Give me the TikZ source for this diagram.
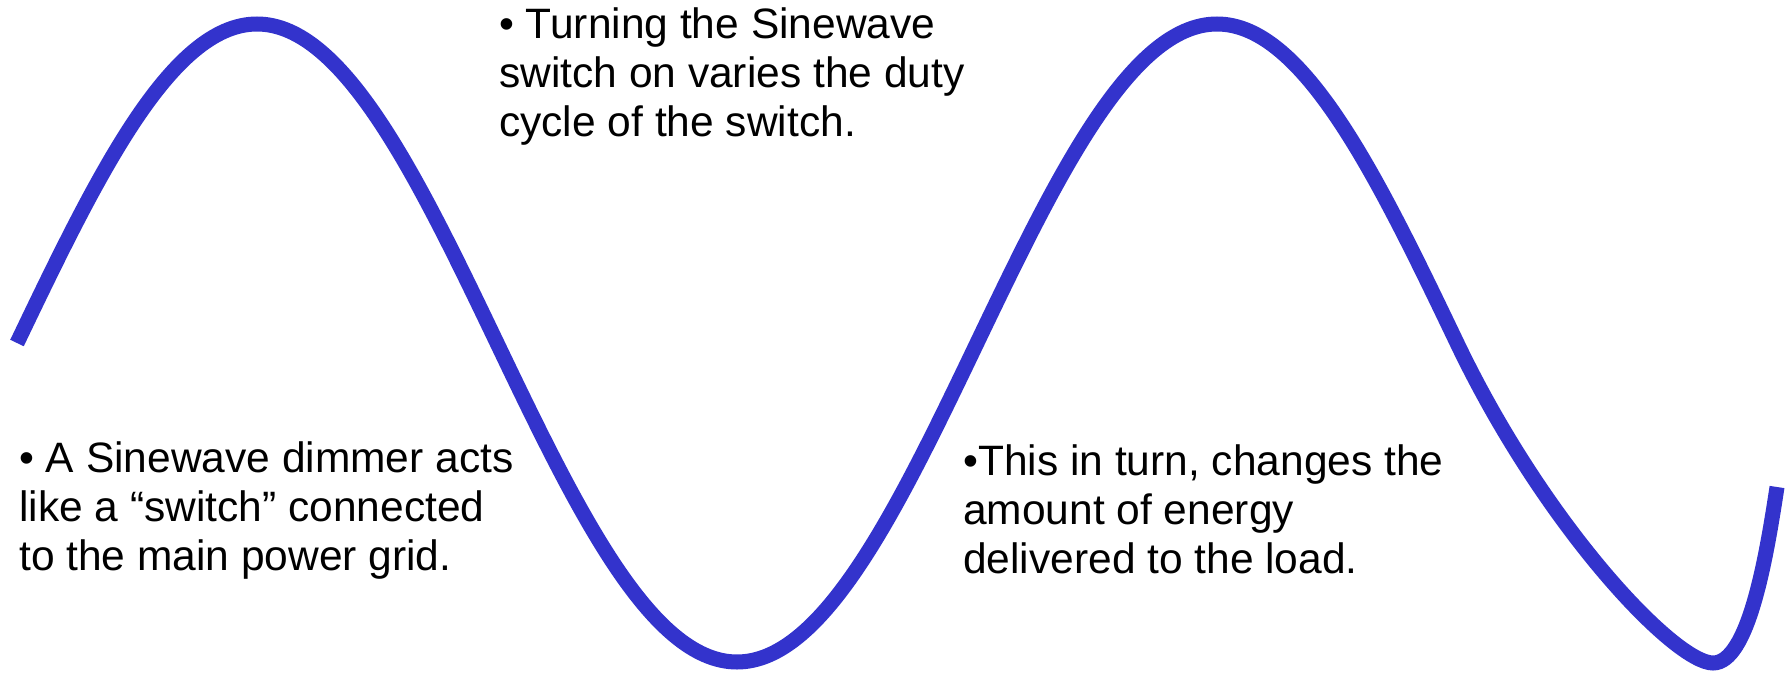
\documentclass[tikz,border=0pt]{standalone}
\usepackage{fontspec}
\setmainfont{Liberation Sans}
\definecolor{wave}{RGB}{51,51,204}
\begin{document}
\begin{tikzpicture}[x=1pt,y=-1pt,
  wavestyle/.style={draw=wave,line width=15pt},
  note/.style={anchor=base west,inner sep=0pt,align=left,
    font=\fontsize{42.5}{49}\selectfont}]
\useasboundingbox (0,0) rectangle (1785,674);
% sine wave
\draw[wavestyle] (17,343)
  .. controls (95.3,179.6) and (170.2,24) .. (257,24)
  .. controls (343.8,24) and (418.7,179.6) .. (497,343)
  .. controls (575.3,506.4) and (650.2,662) .. (737,662)
  .. controls (823.8,662) and (898.7,506.4) .. (977,343)
  .. controls (1055.3,179.6) and (1130.2,24) .. (1217,24)
  .. controls (1303.8,24) and (1378.7,179.6) .. (1457,343)
  .. controls (1545,527) and (1675,663) .. (1713,663)
  .. controls (1748,663) and (1766,560) .. (1777,487);
% texts (base anchor = baseline of the last line)
\node[note] (left) at (19,570) {• A Sinewave dimmer acts\\like a “switch” connected\\to the main power grid.};
\node[note] (top) at (499,137) {• Turning the Sinewave\\switch on varies the duty\\cycle of the switch.};
\node[note] (right) at (963,573) {•This in turn, changes the\\amount of energy\\delivered to the load.};
\end{tikzpicture}
\end{document}
